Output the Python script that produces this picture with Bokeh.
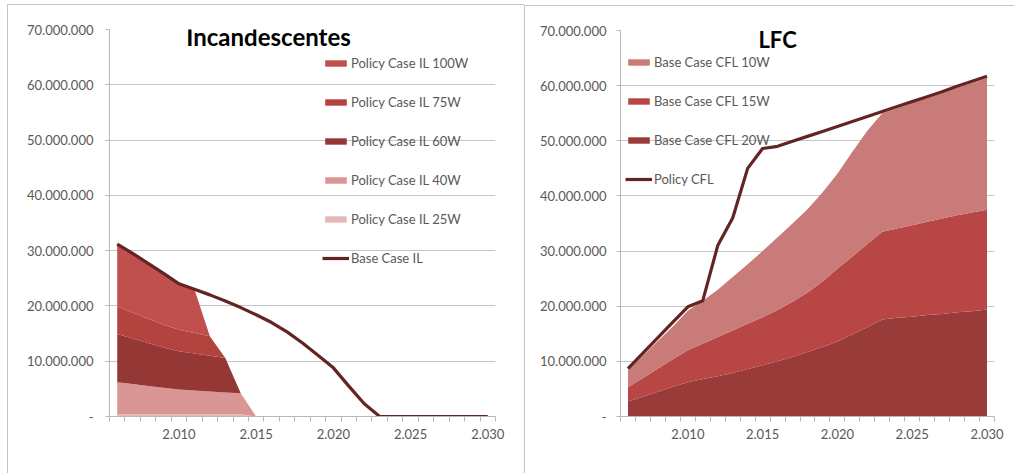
from bokeh.plotting import figure
from bokeh.models import (FixedTicker, Legend, LegendItem, Label,
                          ColumnDataSource, Range1d)
from bokeh.layouts import row
from bokeh.embed import file_html
from bokeh.resources import INLINE

# ---------------------------------------------------------------- data
years = [2006, 2007, 2008, 2009, 2010, 2011, 2012, 2013, 2014, 2015,
         2016, 2017, 2018, 2019, 2020, 2021, 2022, 2023, 2024, 2025,
         2026, 2027, 2028, 2029, 2030]

# Incandescent lamps, millions of units (stacked bottom -> top)
il_25w = [0.4, 0.4, 0.4, 0.4, 0.4, 0.4, 0.4, 0.4, 0.4, 0, 0, 0, 0,
          0, 0, 0, 0, 0, 0, 0, 0, 0, 0, 0, 0]
il_40w = [5.8, 5.5, 5.1, 4.8, 4.5, 4.3, 4.1, 3.95, 3.8, 0, 0, 0, 0,
          0, 0, 0, 0, 0, 0, 0, 0, 0, 0, 0, 0]
il_60w = [8.7, 8.2, 7.8, 7.3, 6.9, 6.7, 6.5, 6.25, 0, 0, 0, 0, 0,
          0, 0, 0, 0, 0, 0, 0, 0, 0, 0, 0, 0]
il_75w = [5.0, 4.7, 4.4, 4.1, 3.9, 3.7, 3.5, 0, 0, 0, 0, 0, 0,
          0, 0, 0, 0, 0, 0, 0, 0, 0, 0, 0, 0]
il_100w = [11.3, 10.7, 10.0, 9.3, 8.3, 7.9, 0, 0, 0, 0, 0, 0, 0,
           0, 0, 0, 0, 0, 0, 0, 0, 0, 0, 0, 0]
base_il = [31.2, 29.5, 27.7, 25.9, 24.0, 23.0, 22.0, 20.9, 19.7, 18.4,
           17.0, 15.3, 13.3, 11.1, 8.8, 5.5, 2.3, 0, 0, 0, 0, 0, 0, 0, 0]

# Compact fluorescent lamps, millions of units (stacked bottom -> top)
cfl_20w = [2.7, 3.6, 4.5, 5.4, 6.2, 6.8, 7.3, 7.9, 8.6, 9.3, 10.0, 10.8,
           11.7, 12.6, 13.6, 14.9, 16.2, 17.6, 17.9, 18.1, 18.4, 18.6,
           18.9, 19.1, 19.4]
cfl_15w = [2.6, 3.4, 4.2, 5.0, 5.8, 6.4, 7.1, 7.7, 8.2, 8.7, 9.3, 10.0,
           10.8, 11.9, 13.2, 14.1, 15.1, 15.9, 16.2, 16.6, 16.9, 17.3,
           17.6, 17.9, 18.1]
cfl_10w = [3.1, 4.0, 5.0, 5.9, 7.2, 7.8, 8.6, 9.7, 10.8, 12.0, 13.2, 14.2,
           15.1, 16.1, 17.2, 19.0, 20.5, 21.5, 21.8, 22.1, 22.4, 22.7,
           23.1, 23.5, 23.9]
policy_cfl = [8.7, 11.5, 14.3, 17.1, 19.9, 21.0, 31.0, 36.0, 45.0, 48.6,
              49.0, 49.9, 50.8, 51.7, 52.6, 53.5, 54.4, 55.3, 56.2, 57.1,
              58.0, 58.9, 59.9, 60.8, 61.7]

y_ticks = [0, 10, 20, 30, 40, 50, 60, 70]      # millions
x_label_years = [2010, 2015, 2020, 2025, 2030]

FONT = "Lato"
GRID = "#c6c6c6"
AXIS = "#b8b8b8"
TEXT = "#595959"
LINE_DARK = "#632523"
FRAME_EDGE = "1px solid #c4c4c4"


def thousands(v):
    return f"{v:,}".replace(",", ".")


def make_panel(width, height, b_left, b_right, b_top, b_bottom, y_standoff,
               styles):
    p = figure(width=width, height=height, output_backend="svg",
               toolbar_location=None, tools="",
               x_range=Range1d(2005.5, 2030.5), y_range=Range1d(0, 70),
               min_border_left=b_left, min_border_right=b_right,
               min_border_top=b_top, min_border_bottom=b_bottom,
               styles=styles)
    p.outline_line_color = None
    p.background_fill_color = "white"
    p.border_fill_color = "white"

    # category axis: tick marks between years, labels every five years
    p.xaxis.ticker = FixedTicker(ticks=x_label_years,
                                 minor_ticks=[y - 0.5 for y in years] + [2030.5])
    p.xaxis.major_label_overrides = {y: thousands(y) for y in x_label_years}
    p.xaxis.major_tick_line_color = None
    p.xaxis.major_tick_out = 0
    p.xaxis.major_tick_in = 0
    p.xaxis.minor_tick_out = 5
    p.xaxis.minor_tick_in = 0
    p.xaxis.minor_tick_line_color = AXIS
    p.xaxis.axis_line_color = AXIS
    p.xaxis.major_label_standoff = 7
    p.xgrid.visible = False

    p.yaxis.ticker = FixedTicker(ticks=y_ticks, minor_ticks=[])
    p.yaxis.major_label_overrides = {
        t: ("-" if t == 0 else thousands(t * 1_000_000)) for t in y_ticks}
    p.yaxis.major_tick_out = 4
    p.yaxis.major_tick_in = 0
    p.yaxis.major_tick_line_color = AXIS
    p.yaxis.axis_line_color = AXIS
    p.yaxis.major_label_standoff = y_standoff
    p.ygrid.grid_line_color = GRID

    for ax in (p.xaxis, p.yaxis):
        ax.major_label_text_font = FONT
        ax.major_label_text_font_size = "13px"
        ax.major_label_text_color = TEXT
    return p


def add_legend(p, items, x, y):
    leg = Legend(items=items, location=(x, y), orientation="vertical",
                 background_fill_alpha=0, border_line_color=None,
                 padding=0, margin=0, spacing=20, label_height=19,
                 glyph_height=8, glyph_width=27, label_standoff=2,
                 label_text_font=FONT, label_text_font_size="13px",
                 label_text_color=TEXT)
    p.add_layout(leg)


def add_title(p, text, x, y, size):
    p.add_layout(Label(x=x, y=y, text=text, text_font=FONT,
                       text_font_style="bold", text_font_size=size,
                       text_color="black", text_align="center",
                       text_baseline="middle"))


# ---------------------------------------------------------------- left panel
src_il = ColumnDataSource(dict(year=years, w25=il_25w, w40=il_40w, w60=il_60w,
                               w75=il_75w, w100=il_100w, base=base_il))
p1 = make_panel(517, 469, 101, 30, 24, 58, 12,
                {"margin-left": "7px", "margin-top": "4px",
                 "border-left": FRAME_EDGE, "border-top": FRAME_EDGE})
il_keys = ["w25", "w40", "w60", "w75", "w100"]
il_colors = ["#e6b9b8", "#d99694", "#953735", "#b3433f", "#c0504d"]
il_areas = p1.varea_stack(stackers=il_keys, x="year", color=il_colors,
                          source=src_il)
il_line = p1.line("year", "base", source=src_il, line_color=LINE_DARK,
                  line_width=3.2, line_join="round")
add_title(p1, "Incandescentes", 2015.8, 68.7, "24px")
add_legend(p1, [
    LegendItem(label="Policy Case IL 100W", renderers=[il_areas[4]]),
    LegendItem(label="Policy Case IL 75W", renderers=[il_areas[3]]),
    LegendItem(label="Policy Case IL 60W", renderers=[il_areas[2]]),
    LegendItem(label="Policy Case IL 40W", renderers=[il_areas[1]]),
    LegendItem(label="Policy Case IL 25W", renderers=[il_areas[0]]),
    LegendItem(label="Base Case IL", renderers=[il_line]),
], 213, 149)

# ---------------------------------------------------------------- right panel
src_cfl = ColumnDataSource(dict(year=years, w20=cfl_20w, w15=cfl_15w,
                                w10=cfl_10w, policy=policy_cfl))
p2 = make_panel(490, 468, 95, 21, 24, 57, 10,
                {"margin-top": "5px",
                 "border-left": FRAME_EDGE, "border-top": FRAME_EDGE})
cfl_keys = ["w20", "w15", "w10"]
cfl_colors = ["#993b39", "#b84644", "#c97b79"]
cfl_areas = p2.varea_stack(stackers=cfl_keys, x="year", color=cfl_colors,
                           source=src_cfl)
cfl_line = p2.line("year", "policy", source=src_cfl, line_color=LINE_DARK,
                   line_width=3.2, line_join="round")
add_title(p2, "LFC", 2016.0, 68.4, "22px")
add_legend(p2, [
    LegendItem(label="Base Case CFL 10W", renderers=[cfl_areas[2]]),
    LegendItem(label="Base Case CFL 15W", renderers=[cfl_areas[1]]),
    LegendItem(label="Base Case CFL 20W", renderers=[cfl_areas[0]]),
    LegendItem(label="Policy CFL", renderers=[cfl_line]),
], 5, 228)

layout = row(p1, p2)
open("out.html", "w").write(file_html(layout, INLINE))
